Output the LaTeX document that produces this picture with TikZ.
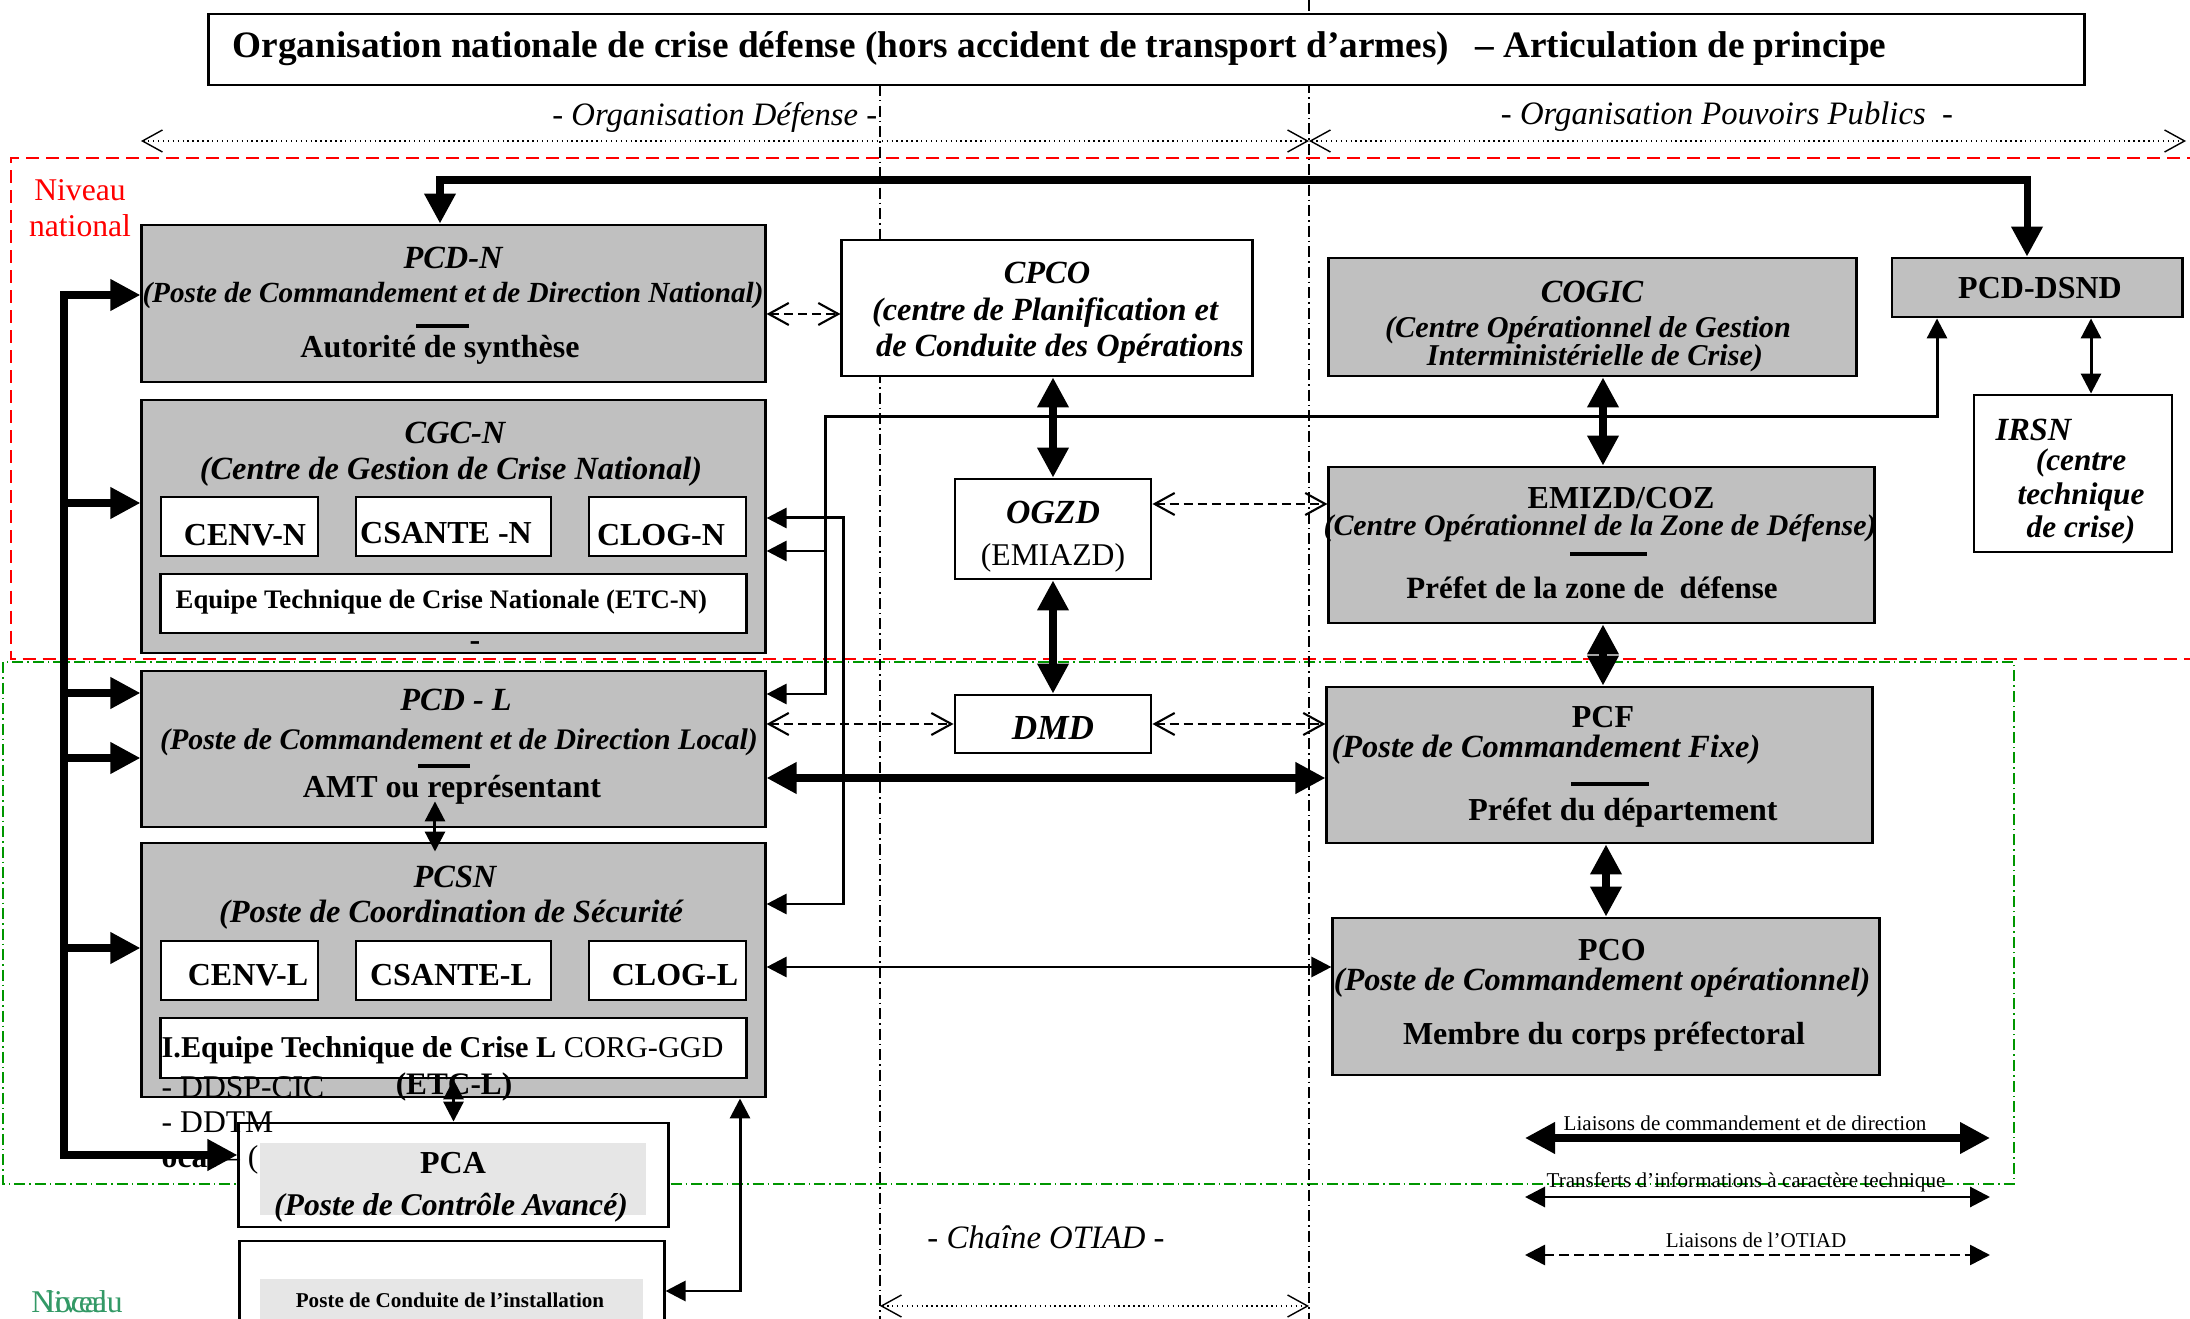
\documentclass[tikz,border=0pt]{standalone}
\usepackage{fontspec}
\setmainfont{Liberation Serif}
\usepackage{tikz}
\usetikzlibrary{arrows.meta}

\definecolor{boxgray}{RGB}{192,192,192}
\definecolor{palegray}{RGB}{230,230,230}
\definecolor{natred}{RGB}{255,0,0}
\definecolor{locgreen}{RGB}{0,150,0}
\definecolor{loctext}{RGB}{51,153,102}

\tikzset{
  gbox/.style={draw, line width=0.8pt, fill=boxgray, inner sep=0pt},
  wbox/.style={draw, line width=0.8pt, fill=white, inner sep=0pt},
  hd/.style={inner sep=0pt, font=\fontsize{9.2}{11}\selectfont\bfseries\itshape},
  hdu/.style={inner sep=0pt, font=\fontsize{9.1}{11}\selectfont\bfseries},
  sub/.style={inner sep=0pt, font=\fontsize{8.6}{10}\selectfont\bfseries\itshape},
  role/.style={inner sep=0pt, font=\fontsize{9.1}{11}\selectfont\bfseries},
  plain/.style={inner sep=0pt, font=\fontsize{9}{11}\selectfont},
  zone/.style={inner sep=0pt, font=\fontsize{9.3}{11}\selectfont\itshape},
  legend/.style={inner sep=0pt, font=\fontsize{6}{7}\selectfont},
  rule/.style={line width=1pt},
  axis/.style={line width=0.5pt, dash pattern=on 1.1mm off 0.4mm on 0.15mm off 0.4mm},
  span/.style={line width=0.4pt, densely dotted,
    {Straight Barb[length=2mm,width=2.2mm]}-{Straight Barb[length=2mm,width=2.2mm]}},
  cmd/.style={line width=2pt,
    {Triangle[length=3mm,width=3mm]}-{Triangle[length=3mm,width=3mm]}},
  cmdto/.style={line width=2pt, -{Triangle[length=3mm,width=3mm]}},
  tech/.style={line width=0.85pt,
    {Triangle[length=2mm,width=2mm]}-{Triangle[length=2mm,width=2mm]}},
  techto/.style={line width=0.85pt, -{Triangle[length=2mm,width=2mm]}},
  otiad/.style={line width=0.6pt, dash pattern=on 0.9mm off 0.5mm,
    {Straight Barb[length=2mm,width=2.2mm]}-{Straight Barb[length=2mm,width=2.2mm]}},
  otiadleg/.style={line width=0.75pt, dash pattern=on 1mm off 0.5mm,
    {Triangle[length=2mm,width=2mm]}-{Triangle[length=2mm,width=2mm]}}
}

\begin{document}
\begin{tikzpicture}[x=0.01cm, y=-0.01cm]
  \useasboundingbox (0,0) rectangle (2190,1319);

  \draw[natred, line width=0.6pt, dash pattern=on 1.3mm off 0.7mm] (2200,158) -- (11,158) -- (11,659) -- (2200,659);
  \draw[locgreen, line width=0.5pt, dash pattern=on 1.1mm off 0.4mm on 0.15mm off 0.4mm] (3,662) rectangle (2014,1184);
  \node[inner sep=0pt, text=natred, font=\fontsize{9}{11}\selectfont] (nat1) at (80,190) {Niveau};
  \node[inner sep=0pt, text=natred, font=\fontsize{9}{11}\selectfont] (nat2) at (80,226) {national};
  \node[inner sep=0pt, text=loctext, font=\fontsize{9}{11}\selectfont] (loc1) at (77,1302) {Niveau};
  \node[inner sep=0pt, text=loctext, font=\fontsize{9}{11}\selectfont] (loc2) at (77,1302) {local};

  \draw[axis] (880,85) -- (880,1319);
  \draw[axis] (1309,0) -- (1309,1319);

  \node[wbox, minimum width=18.75cm, minimum height=0.71cm] (title) at (1146.5,49.5) {};
  \node[anchor=west, inner sep=0pt, font=\fontsize{10.6}{13}\selectfont\bfseries] (title-t) at (232,49)
    {Organisation nationale de crise défense (hors accident de transport d’armes)\hspace{0.7em}– Articulation de principe};

  \coordinate (defl) at (141,141);
  \coordinate (split) at (1309,141);
  \coordinate (ppr) at (2186,141);
  \draw[span] (defl) -- (split);
  \draw[span] (split) -- (ppr);
  \node[zone, anchor=east] (def-t) at (878,117) {- Organisation Défense -};
  \node[zone] (pp-t) at (1727,117) {- Organisation Pouvoirs Publics\enspace-};
  \coordinate (otl) at (880,1306);
  \coordinate (otr) at (1309,1306);
  \draw[span] (otl) -- (otr);
  \node[zone] (otiad-t) at (1046,1237) {- Chaîne OTIAD -};

  \node[gbox, minimum width=6.23cm, minimum height=1.57cm] (pcdn) at (453.5,303.5) {};
  \node[hd] (pcdn-a) at (453,258) {PCD-N};
  \node[hd, font=\fontsize{8.3}{10}\selectfont\bfseries\itshape] (pcdn-b) at (453,295) {(Poste de Commandement et de Direction National)};
  \draw[rule] (416,326) -- (469,326);
  \node[role] (pcdn-c) at (440,350) {Autorité de synthèse};

  \node[wbox, minimum width=4.10cm, minimum height=1.36cm] (cpco) at (1047,308) {};
  \node[hd] (cpco-a) at (1047,273) {CPCO};
  \node[hd] (cpco-b) at (1045,313) {(centre de Planification et};
  \node[hd] (cpco-c) at (1060,349) {de Conduite des Opérations};

  \node[gbox, minimum width=5.27cm, minimum height=1.18cm] (cogic) at (1592.5,317) {};
  \node[hd] (cogic-a) at (1592,292) {COGIC};
  \node[sub] (cogic-b) at (1588,330) {(Centre Opérationnel de Gestion};
  \node[sub] (cogic-c) at (1595,358) {Interministérielle de Crise)};

  \node[gbox, minimum width=2.90cm, minimum height=0.59cm] (pcddsnd) at (2037,287.5) {};
  \node[hdu] (pcddsnd-a) at (2040,288) {PCD-DSND};

  \node[wbox, minimum width=1.98cm, minimum height=1.57cm] (irsn) at (2073,473.5) {};
  \node[hd, anchor=west] (irsn-a) at (1995,430) {IRSN};
  \node[hd, font=\fontsize{8.9}{11}\selectfont\bfseries\itshape] (irsn-b) at (2081,463) {(centre};
  \node[hd, font=\fontsize{8.9}{11}\selectfont\bfseries\itshape] (irsn-c) at (2081,497) {technique};
  \node[hd, font=\fontsize{8.9}{11}\selectfont\bfseries\itshape] (irsn-d) at (2081,530) {de crise)};

  \node[gbox, minimum width=6.23cm, minimum height=2.53cm] (cgcn) at (453.5,526.5) {};
  \node[hd] (cgcn-a) at (455,433) {CGC-N};
  \node[hd] (cgcn-b) at (451,472) {(Centre de Gestion de Crise National)};
  \node[wbox, minimum width=1.57cm, minimum height=0.59cm] (cenvn) at (239.5,526.5) {};
  \node[hdu] (cenvn-a) at (245,535) {CENV-N};
  \node[wbox, minimum width=1.95cm, minimum height=0.59cm] (csanten) at (453.5,526.5) {};
  \node[hdu] (csanten-a) at (446,533) {CSANTE -N};
  \node[wbox, minimum width=1.57cm, minimum height=0.59cm] (clogn) at (667.5,526.5) {};
  \node[hdu] (clogn-a) at (661,535) {CLOG-N};
  \node[wbox, minimum width=5.85cm, minimum height=0.59cm] (etcn) at (453.5,603.5) {};
  \node[hdu, anchor=west, font=\fontsize{7.6}{9}\selectfont\bfseries] (etcn-a) at (175,602) {Equipe Technique de Crise Nationale (ETC-N)};
  \node[hdu] (cgcn-c) at (475,646) {-};

  \node[wbox, minimum width=1.96cm, minimum height=1.00cm] (ogzd) at (1053,529) {};
  \node[hd, font=\fontsize{9.6}{11}\selectfont\bfseries\itshape] (ogzd-a) at (1053,512) {OGZD};
  \node[plain, font=\fontsize{9}{11}\selectfont] (ogzd-b) at (1053,558) {(EMIAZD)};

  \node[gbox, minimum width=5.45cm, minimum height=1.56cm] (emizd) at (1601.5,545) {};
  \node[hdu] (emizd-a) at (1621,498) {EMIZD/COZ};
  \node[hd, font=\fontsize{8.5}{10}\selectfont\bfseries\itshape] (emizd-b) at (1600,528) {(Centre Opérationnel de la Zone de Défense)};
  \draw[rule] (1570,554) -- (1647,554);
  \node[role, font=\fontsize{8.8}{11}\selectfont\bfseries] (emizd-c) at (1592,588) {Préfet de la zone de\enspace défense};

  \node[gbox, minimum width=6.23cm, minimum height=1.56cm] (pcdl) at (453.5,749) {};
  \node[hd] (pcdl-a) at (456,700) {PCD - L};
  \node[hd, font=\fontsize{8.5}{10}\selectfont\bfseries\itshape] (pcdl-b) at (459,742) {(Poste de Commandement et de Direction Local)};
  \draw[rule] (418,766) -- (470,766);
  \node[role] (pcdl-c) at (452,790) {AMT ou représentant};

  \node[wbox, minimum width=1.96cm, minimum height=0.58cm] (dmd) at (1053,724) {};
  \node[hd, font=\fontsize{10}{12}\selectfont\bfseries\itshape] (dmd-a) at (1053,728) {DMD};

  \node[gbox, minimum width=5.45cm, minimum height=1.56cm] (pcf) at (1599.5,765) {};
  \node[hdu] (pcf-a) at (1603,717) {PCF};
  \node[hd] (pcf-b) at (1546,750) {(Poste de Commandement Fixe)};
  \draw[rule] (1571,784) -- (1649,784);
  \node[role] (pcf-c) at (1623,813) {Préfet du département};

  \node[gbox, minimum width=6.23cm, minimum height=2.54cm] (pcsn) at (453.5,970) {};
  \node[hd] (pcsn-a) at (455,877) {PCSN};
  \node[hd] (pcsn-b) at (451,915) {(Poste de Coordination de Sécurité};
  \node[wbox, minimum width=1.57cm, minimum height=0.59cm] (cenvl) at (239.5,970.5) {};
  \node[hdu] (cenvl-a) at (248,975) {CENV-L};
  \node[wbox, minimum width=1.95cm, minimum height=0.59cm] (csantel) at (453.5,970.5) {};
  \node[hdu] (csantel-a) at (451,975) {CSANTE-L};
  \node[wbox, minimum width=1.57cm, minimum height=0.59cm] (clogl) at (667.5,970.5) {};
  \node[hdu] (clogl-a) at (675,975) {CLOG-L};
  \node[wbox, minimum width=5.85cm, minimum height=0.60cm] (etcl) at (453.5,1048) {};
  \node[anchor=west, inner sep=0pt, font=\fontsize{8.6}{10}\selectfont] (etcl-a) at (161,1050) {\textbf{I.Equipe Technique de Crise L} CORG-GGD};

  \node[gbox, minimum width=5.46cm, minimum height=1.57cm] (pco) at (1606,996.5) {};
  \node[hdu] (pco-a) at (1612,950) {PCO};
  \node[hd] (pco-b) at (1602,983) {(Poste de Commandement opérationnel)};
  \node[role] (pco-c) at (1604,1037) {Membre du corps préfectoral};

  \node[wbox, minimum width=4.29cm, minimum height=1.04cm] (pca) at (453.5,1175) {};
  \fill[palegray] (260,1143) rectangle (646,1215);
  \node[hdu] (pca-a) at (453,1163) {PCA};
  \node[hd, font=\fontsize{9}{11}\selectfont\bfseries\itshape] (pca-b) at (451,1208) {(Poste de Contrôle Avancé)};

  \node[wbox, minimum width=4.24cm, minimum height=1.00cm] (conduite) at (452,1291) {};
  \fill[palegray] (260,1279) rectangle (643,1341);
  \node[hdu, font=\fontsize{6}{7}\selectfont\bfseries] (conduite-a) at (450,1300) {Poste de Conduite de l’installation};

  \node[plain, anchor=west] (etcl-b) at (161,1087) {- DDSP-CIC};
  \node[hdu, font=\fontsize{8.9}{10}\selectfont\bfseries] (etcl-c) at (454,1087) {(ETC-L)};
  \node[plain, anchor=west] (etcl-d) at (161,1122) {- DDTM};
  \node[plain, anchor=west] (etcl-e) at (161,1160) {\textbf{ocal} – (};

  \coordinate (topl) at (440,180);
  \coordinate (topr) at (2027,180);
  \draw[cmd] (pcdn.north -| topl) -- (topl) -- (topr) -- (pcddsnd.north -| topr);
  \coordinate (bus) at (64,295);
  \draw[cmd] (pcdn.west |- bus) -- (bus) -- (bus |- 0,1155) -- (pca.west |- 0,1155);
  \draw[cmdto] (bus |- 0,503) -- (cgcn.west |- 0,503);
  \draw[cmdto] (bus |- 0,693) -- (pcdl.west |- 0,693);
  \draw[cmdto] (bus |- 0,758) -- (pcdl.west |- 0,758);
  \draw[cmdto] (bus |- 0,948) -- (pcsn.west |- 0,948);
  \draw[cmd] (cpco.south -| ogzd.north) -- (ogzd.north);
  \draw[cmd] (ogzd.south) -- (dmd.north);
  \draw[cmd] (cogic.south -| 1603,0) -- (emizd.north -| 1603,0);
  \draw[cmd] (emizd.south -| 1603,0) -- (pcf.north -| 1603,0);
  \draw[cmd] (pcf.south -| pco.north) -- (pco.north);
  \draw[cmd] (pcdl.east |- 0,778) -- (pcf.west |- 0,778);

  \coordinate (ta) at (825,417);
  \draw[tech] (pcdl.east |- 0,694) -| (ta) -| (pcddsnd.south -| 1937,0);
  \draw[techto] (ta |- 0,551) -- (cgcn.east |- 0,551);
  \coordinate (tb) at (843,518);
  \draw[tech] (cgcn.east |- tb) -- (tb) -- (tb |- 0,904) -- (pcsn.east |- 0,904);
  \draw[tech] (pcsn.east |- 0,967) -- (pco.west |- 0,967);
  \draw[tech] (pcddsnd.south -| 2091,0) -- (irsn.north -| 2091,0);
  \draw[tech] ([xshift=-0.185cm,yshift=0.27cm]pcdl.south) -- ([xshift=-0.185cm,yshift=-0.1cm]pcsn.north);
  \draw[tech] (etcl.south) -- (pca.north);
  \draw[tech] (pcsn.south -| 740,0) |- (conduite.east);

  \draw[otiad] (pcdn.east |- 0,314) -- (cpco.west |- 0,314);
  \draw[otiad] (ogzd.east |- 0,504) -- (emizd.west |- 0,504);
  \draw[otiad] (pcdl.east |- dmd.west) -- (dmd.west);
  \draw[otiad] (dmd.east) -- (pcf.west |- dmd.east);

  \coordinate (lg1a) at (1525,1138);
  \coordinate (lg1b) at (1990,1138);
  \draw[cmd] (lg1a) -- (lg1b);
  \node[legend] (lg1-t) at (1745,1123) {Liaisons de commandement et de direction};
  \coordinate (lg2a) at (1525,1197);
  \coordinate (lg2b) at (1990,1197);
  \draw[tech] (lg2a) -- (lg2b);
  \node[legend] (lg2-t) at (1746,1182) {Transferts d’informations à caractère technique};
  \coordinate (lg3a) at (1525,1255);
  \coordinate (lg3b) at (1990,1255);
  \draw[otiadleg] (lg3a) -- (lg3b);
  \node[legend] (lg3-t) at (1756,1240) {Liaisons de l’OTIAD};
\end{tikzpicture}
\end{document}
